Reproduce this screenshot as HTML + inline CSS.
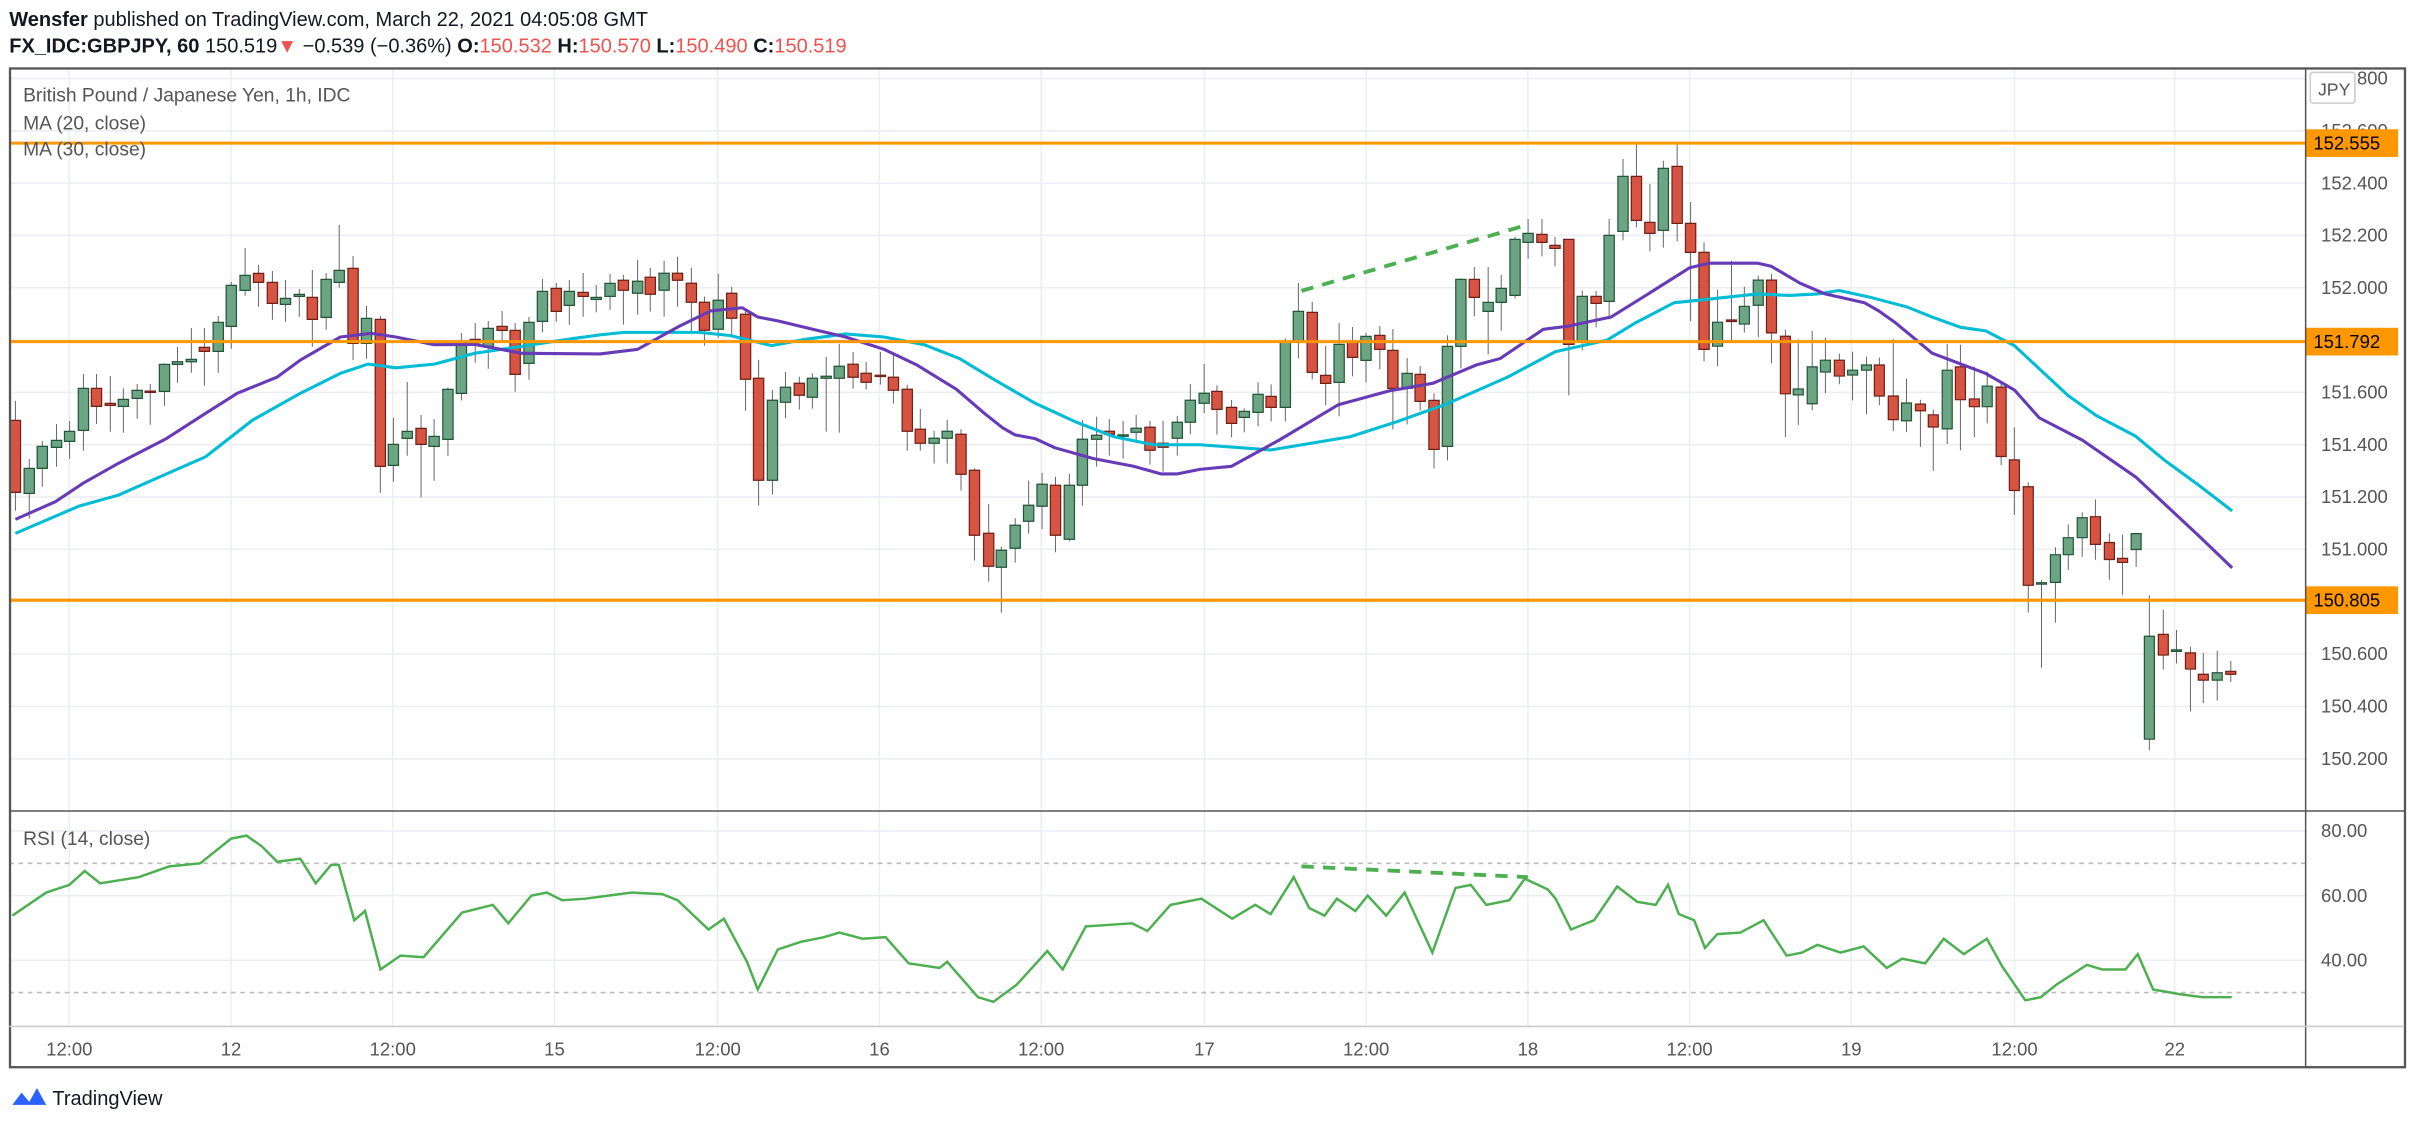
<!DOCTYPE html>
<html><head><meta charset="utf-8"><style>
html,body{margin:0;padding:0;background:#fff;}
svg{display:block;}
text{font-family:"Liberation Sans",sans-serif;}
.u{fill:#6ba583;stroke:#225437;stroke-width:1.2;}
.d{fill:#d75442;stroke:#6e1f16;stroke-width:1.2;}
.w{stroke:#666;stroke-width:1;fill:none;}
</style></head><body>
<svg width="2415" height="1128" viewBox="0 0 1568 733" preserveAspectRatio="none" xmlns="http://www.w3.org/2000/svg">
<rect width="1568" height="733" fill="#fff"/>
<g stroke="#eceef2" stroke-width="1">
<path d="M45 44V667M150 44V667M255 44V667M360 44V667M466 44V667M571 44V667M676 44V667M782 44V667M887 44V667M992 44V667M1097 44V667M1202 44V667M1308 44V667M1412 44V667"/>
<path d="M6 51H1497M6 85H1497M6 119H1497M6 153H1497M6 187H1497M6 221H1497M6 255H1497M6 289H1497M6 323H1497M6 357H1497M6 391H1497M6 425H1497M6 459H1497M6 493H1497M6 540H1497M6 582H1497M6 624H1497"/>
</g>
<text x="6" y="17" font-size="13" fill="#131722"><tspan font-weight="bold">Wensfer</tspan> published on TradingView.com, March 22, 2021 04:05:08 GMT</text>
<text x="6" y="34" font-size="13" fill="#131722"><tspan font-weight="bold">FX_IDC:GBPJPY, 60</tspan> 150.519<tspan fill="#ef5350">▼</tspan> −0.539 (−0.36%) <tspan font-weight="bold">O:</tspan><tspan fill="#ef5350">150.532</tspan> <tspan font-weight="bold">H:</tspan><tspan fill="#ef5350">150.570</tspan> <tspan font-weight="bold">L:</tspan><tspan fill="#ef5350">150.490</tspan> <tspan font-weight="bold">C:</tspan><tspan fill="#ef5350">150.519</tspan></text>

<g transform="translate(0,130) scale(0.2567,0.2166)">
<path class="w" vector-effect="non-scaling-stroke" d="M39 603V932M74 777V955M107 723V860M143 672V800M176 663V777M211 522V752M244 522V672M279 528V695M312 565V698M347 552V656M380 552V674M416 490V617M449 441V548M484 384V518M517 384V557M552 348V518M585 246V446M620 144V287M654 195V320M689 213V359M722 240V365M757 267V350M790 210V440M825 219V389M858 75V263M893 168V479M927 318V476M962 348V878M995 654V845M1030 546V767M1065 645V892M1098 657V842M1133 562V767M1167 399V601M1202 369V488M1235 363V506M1270 333V420M1303 369V575M1338 351V539M1372 237V397M1407 249V365M1440 240V374M1475 219V350M1508 255V337M1543 222V329"/>
<rect class="d" vector-effect="non-scaling-stroke" x="26" y="661" width="26" height="216"/>
<rect class="u" vector-effect="non-scaling-stroke" x="61" y="805" width="26" height="75"/>
<rect class="u" vector-effect="non-scaling-stroke" x="94" y="739" width="26" height="66"/>
<rect class="u" vector-effect="non-scaling-stroke" x="130" y="721" width="26" height="21"/>
<rect class="u" vector-effect="non-scaling-stroke" x="163" y="694" width="26" height="30"/>
<rect class="u" vector-effect="non-scaling-stroke" x="198" y="565" width="26" height="126"/>
<rect class="d" vector-effect="non-scaling-stroke" x="231" y="565" width="26" height="54"/>
<rect class="d" vector-effect="non-scaling-stroke" x="266" y="610" width="26" height="6"/>
<rect class="u" vector-effect="non-scaling-stroke" x="299" y="598" width="26" height="21"/>
<rect class="u" vector-effect="non-scaling-stroke" x="334" y="571" width="26" height="24"/>
<rect class="d" vector-effect="non-scaling-stroke" x="367" y="573" width="26" height="4"/>
<rect class="u" vector-effect="non-scaling-stroke" x="403" y="493" width="26" height="81"/>
<rect class="u" vector-effect="non-scaling-stroke" x="436" y="485" width="26" height="8"/>
<rect class="u" vector-effect="non-scaling-stroke" x="471" y="478" width="26" height="7"/>
<rect class="d" vector-effect="non-scaling-stroke" x="504" y="442" width="26" height="12"/>
<rect class="u" vector-effect="non-scaling-stroke" x="539" y="367" width="26" height="87"/>
<rect class="u" vector-effect="non-scaling-stroke" x="572" y="256" width="26" height="123"/>
<rect class="u" vector-effect="non-scaling-stroke" x="607" y="226" width="26" height="45"/>
<rect class="d" vector-effect="non-scaling-stroke" x="641" y="220" width="26" height="27"/>
<rect class="d" vector-effect="non-scaling-stroke" x="676" y="247" width="26" height="63"/>
<rect class="u" vector-effect="non-scaling-stroke" x="709" y="295" width="26" height="18"/>
<rect class="u" vector-effect="non-scaling-stroke" x="744" y="283" width="26" height="6"/>
<rect class="d" vector-effect="non-scaling-stroke" x="777" y="292" width="26" height="66"/>
<rect class="u" vector-effect="non-scaling-stroke" x="812" y="238" width="26" height="114"/>
<rect class="u" vector-effect="non-scaling-stroke" x="845" y="211" width="26" height="36"/>
<rect class="d" vector-effect="non-scaling-stroke" x="880" y="205" width="26" height="225"/>
<rect class="u" vector-effect="non-scaling-stroke" x="914" y="355" width="26" height="75"/>
<rect class="d" vector-effect="non-scaling-stroke" x="949" y="358" width="26" height="441"/>
<rect class="u" vector-effect="non-scaling-stroke" x="982" y="733" width="26" height="63"/>
<rect class="u" vector-effect="non-scaling-stroke" x="1017" y="694" width="26" height="21"/>
<rect class="d" vector-effect="non-scaling-stroke" x="1052" y="685" width="26" height="48"/>
<rect class="u" vector-effect="non-scaling-stroke" x="1085" y="709" width="26" height="30"/>
<rect class="u" vector-effect="non-scaling-stroke" x="1120" y="568" width="26" height="150"/>
<rect class="u" vector-effect="non-scaling-stroke" x="1154" y="430" width="26" height="150"/>
<rect class="d" vector-effect="non-scaling-stroke" x="1189" y="418" width="26" height="10"/>
<rect class="u" vector-effect="non-scaling-stroke" x="1222" y="385" width="26" height="54"/>
<rect class="d" vector-effect="non-scaling-stroke" x="1257" y="379" width="26" height="12"/>
<rect class="d" vector-effect="non-scaling-stroke" x="1290" y="391" width="26" height="132"/>
<rect class="u" vector-effect="non-scaling-stroke" x="1325" y="367" width="26" height="123"/>
<rect class="u" vector-effect="non-scaling-stroke" x="1359" y="274" width="26" height="90"/>
<rect class="d" vector-effect="non-scaling-stroke" x="1394" y="265" width="26" height="69"/>
<rect class="u" vector-effect="non-scaling-stroke" x="1427" y="274" width="26" height="42"/>
<rect class="d" vector-effect="non-scaling-stroke" x="1462" y="277" width="26" height="12"/>
<rect class="u" vector-effect="non-scaling-stroke" x="1495" y="292" width="26" height="6"/>
<rect class="u" vector-effect="non-scaling-stroke" x="1530" y="250" width="26" height="39"/>
</g>

<g transform="translate(389.6,162.4) scale(0.2567,0.2166)">
<path class="w" vector-effect="non-scaling-stroke" d="M59 75V224M95 30V194M127 54V185M162 33V200M196 21V170M231 54V249M264 140V287M299 72V264M333 111V254M368 180V482M401 330V767M436 420V734M469 366V505M504 380V479M537 370V476M572 321V545M605 282V548M640 306V416M673 336V419M709 306V404M742 315V461M777 405V602M810 477V602M845 543V641M878 510V641M913 538V722M947 655V932M983 762V995M1015 890V1088M1050 805V938M1084 692V851M1118 669V838M1152 681V907M1187 672V874M1220 510V767M1256 500V650M1288 507V617M1323 513V626M1356 495V580M1391 513V644M1424 513V665M1460 498V617M1493 402V553M1528 342V490"/>
<rect class="d" vector-effect="non-scaling-stroke" x="46" y="91" width="26" height="30"/>
<rect class="u" vector-effect="non-scaling-stroke" x="82" y="94" width="26" height="36"/>
<rect class="d" vector-effect="non-scaling-stroke" x="114" y="82" width="26" height="51"/>
<rect class="u" vector-effect="non-scaling-stroke" x="149" y="70" width="26" height="51"/>
<rect class="d" vector-effect="non-scaling-stroke" x="183" y="70" width="26" height="21"/>
<rect class="d" vector-effect="non-scaling-stroke" x="218" y="100" width="26" height="57"/>
<rect class="d" vector-effect="non-scaling-stroke" x="251" y="157" width="26" height="84"/>
<rect class="u" vector-effect="non-scaling-stroke" x="286" y="151" width="26" height="87"/>
<rect class="d" vector-effect="non-scaling-stroke" x="320" y="130" width="26" height="75"/>
<rect class="d" vector-effect="non-scaling-stroke" x="355" y="193" width="26" height="195"/>
<rect class="d" vector-effect="non-scaling-stroke" x="388" y="385" width="26" height="306"/>
<rect class="u" vector-effect="non-scaling-stroke" x="423" y="451" width="26" height="240"/>
<rect class="u" vector-effect="non-scaling-stroke" x="456" y="412" width="26" height="45"/>
<rect class="d" vector-effect="non-scaling-stroke" x="491" y="400" width="26" height="36"/>
<rect class="u" vector-effect="non-scaling-stroke" x="524" y="385" width="26" height="57"/>
<rect class="u" vector-effect="non-scaling-stroke" x="559" y="379" width="26" height="6"/>
<rect class="u" vector-effect="non-scaling-stroke" x="592" y="349" width="26" height="36"/>
<rect class="d" vector-effect="non-scaling-stroke" x="627" y="343" width="26" height="39"/>
<rect class="d" vector-effect="non-scaling-stroke" x="660" y="370" width="26" height="27"/>
<rect class="d" vector-effect="non-scaling-stroke" x="696" y="376" width="26" height="4"/>
<rect class="d" vector-effect="non-scaling-stroke" x="729" y="382" width="26" height="39"/>
<rect class="d" vector-effect="non-scaling-stroke" x="764" y="418" width="26" height="126"/>
<rect class="d" vector-effect="non-scaling-stroke" x="797" y="538" width="26" height="42"/>
<rect class="u" vector-effect="non-scaling-stroke" x="832" y="565" width="26" height="15"/>
<rect class="u" vector-effect="non-scaling-stroke" x="865" y="544" width="26" height="21"/>
<rect class="d" vector-effect="non-scaling-stroke" x="900" y="553" width="26" height="120"/>
<rect class="d" vector-effect="non-scaling-stroke" x="934" y="661" width="26" height="195"/>
<rect class="d" vector-effect="non-scaling-stroke" x="970" y="850" width="26" height="99"/>
<rect class="u" vector-effect="non-scaling-stroke" x="1002" y="901" width="26" height="51"/>
<rect class="u" vector-effect="non-scaling-stroke" x="1037" y="826" width="26" height="69"/>
<rect class="u" vector-effect="non-scaling-stroke" x="1071" y="766" width="26" height="48"/>
<rect class="u" vector-effect="non-scaling-stroke" x="1105" y="703" width="26" height="66"/>
<rect class="d" vector-effect="non-scaling-stroke" x="1139" y="706" width="26" height="150"/>
<rect class="u" vector-effect="non-scaling-stroke" x="1174" y="706" width="26" height="162"/>
<rect class="u" vector-effect="non-scaling-stroke" x="1207" y="568" width="26" height="138"/>
<rect class="u" vector-effect="non-scaling-stroke" x="1243" y="556" width="26" height="12"/>
<rect class="d" vector-effect="non-scaling-stroke" x="1275" y="544" width="26" height="9"/>
<rect class="u" vector-effect="non-scaling-stroke" x="1310" y="555" width="26" height="4"/>
<rect class="u" vector-effect="non-scaling-stroke" x="1343" y="535" width="26" height="12"/>
<rect class="d" vector-effect="non-scaling-stroke" x="1378" y="532" width="26" height="69"/>
<rect class="d" vector-effect="non-scaling-stroke" x="1411" y="580" width="26" height="12"/>
<rect class="u" vector-effect="non-scaling-stroke" x="1447" y="517" width="26" height="48"/>
<rect class="u" vector-effect="non-scaling-stroke" x="1480" y="451" width="26" height="66"/>
<rect class="u" vector-effect="non-scaling-stroke" x="1515" y="430" width="26" height="30"/>
</g>

<g transform="translate(779.1,78) scale(0.2567,0.2166)">
<path class="w" vector-effect="non-scaling-stroke" d="M43 796V943M80 840V952M112 865V937M147 787V919M180 793V904M216 655V904M249 489V715M284 546V778M318 678V856M352 609V889M386 621V769M420 639V787M455 618V748M488 627V928M524 714V913M557 738V871M592 820V1045M626 646V1021M660 475V745M694 441V589M729 441V703M762 465V632M797 350V535M830 297V416M865 297V409M898 351V439M933 358V826M967 511V691M1002 513V622M1035 297V598M1070 117V361M1104 70V322M1138 192V394M1172 122V383M1207 70V364M1241 246V604M1275 367V724"/>
<rect class="d" vector-effect="non-scaling-stroke" x="30" y="814" width="26" height="54"/>
<rect class="d" vector-effect="non-scaling-stroke" x="67" y="862" width="26" height="48"/>
<rect class="u" vector-effect="non-scaling-stroke" x="99" y="874" width="26" height="18"/>
<rect class="u" vector-effect="non-scaling-stroke" x="134" y="823" width="26" height="54"/>
<rect class="d" vector-effect="non-scaling-stroke" x="167" y="829" width="26" height="33"/>
<rect class="u" vector-effect="non-scaling-stroke" x="203" y="667" width="26" height="195"/>
<rect class="u" vector-effect="non-scaling-stroke" x="236" y="574" width="26" height="93"/>
<rect class="d" vector-effect="non-scaling-stroke" x="271" y="577" width="26" height="180"/>
<rect class="d" vector-effect="non-scaling-stroke" x="305" y="766" width="26" height="24"/>
<rect class="u" vector-effect="non-scaling-stroke" x="339" y="673" width="26" height="114"/>
<rect class="d" vector-effect="non-scaling-stroke" x="373" y="667" width="26" height="45"/>
<rect class="u" vector-effect="non-scaling-stroke" x="407" y="649" width="26" height="72"/>
<rect class="d" vector-effect="non-scaling-stroke" x="442" y="646" width="26" height="42"/>
<rect class="d" vector-effect="non-scaling-stroke" x="475" y="691" width="26" height="114"/>
<rect class="u" vector-effect="non-scaling-stroke" x="511" y="760" width="26" height="45"/>
<rect class="d" vector-effect="non-scaling-stroke" x="544" y="763" width="26" height="81"/>
<rect class="d" vector-effect="non-scaling-stroke" x="579" y="841" width="26" height="147"/>
<rect class="u" vector-effect="non-scaling-stroke" x="613" y="679" width="26" height="300"/>
<rect class="u" vector-effect="non-scaling-stroke" x="647" y="478" width="26" height="201"/>
<rect class="d" vector-effect="non-scaling-stroke" x="681" y="478" width="26" height="54"/>
<rect class="u" vector-effect="non-scaling-stroke" x="716" y="547" width="26" height="27"/>
<rect class="u" vector-effect="non-scaling-stroke" x="749" y="505" width="26" height="42"/>
<rect class="u" vector-effect="non-scaling-stroke" x="784" y="358" width="26" height="168"/>
<rect class="u" vector-effect="non-scaling-stroke" x="817" y="340" width="26" height="27"/>
<rect class="d" vector-effect="non-scaling-stroke" x="852" y="343" width="26" height="24"/>
<rect class="d" vector-effect="non-scaling-stroke" x="885" y="376" width="26" height="9"/>
<rect class="d" vector-effect="non-scaling-stroke" x="920" y="358" width="26" height="315"/>
<rect class="u" vector-effect="non-scaling-stroke" x="954" y="529" width="26" height="138"/>
<rect class="d" vector-effect="non-scaling-stroke" x="989" y="529" width="26" height="21"/>
<rect class="u" vector-effect="non-scaling-stroke" x="1022" y="346" width="26" height="198"/>
<rect class="u" vector-effect="non-scaling-stroke" x="1057" y="169" width="26" height="165"/>
<rect class="d" vector-effect="non-scaling-stroke" x="1091" y="169" width="26" height="132"/>
<rect class="d" vector-effect="non-scaling-stroke" x="1125" y="307" width="26" height="33"/>
<rect class="u" vector-effect="non-scaling-stroke" x="1159" y="145" width="26" height="186"/>
<rect class="d" vector-effect="non-scaling-stroke" x="1194" y="139" width="26" height="171"/>
<rect class="d" vector-effect="non-scaling-stroke" x="1228" y="310" width="26" height="87"/>
<rect class="d" vector-effect="non-scaling-stroke" x="1262" y="397" width="26" height="291"/>
</g>

<g transform="translate(1103.8,130) scale(0.2319,0.2398)">
<path class="w" vector-effect="non-scaling-stroke" d="M49 243V450M88 165V380M124 235V359M163 205V372M200 200V442M239 351V642M275 378V610M314 354V570M351 373V523M390 416V499M427 411V543M466 424V580M502 427V556M541 377V626M578 484V629M617 541V669M653 568V734M692 390V661M729 392V678M768 451V642M804 465V605M843 498V718M880 616V853M919 765V1118M956 1030V1267M995 941V1145M1031 879V1002M1070 846V967M1107 811V975M1146 903V1029M1183 907V1070M1221 904V994M1258 1071V1491M1297 1110V1272M1334 1165V1256M1373 1210V1386M1409 1227V1363M1448 1222V1356M1486 1249V1306"/>
<rect class="u" vector-effect="non-scaling-stroke" x="35" y="331" width="28" height="65"/>
<rect class="d" vector-effect="non-scaling-stroke" x="74" y="325" width="28" height="4"/>
<rect class="u" vector-effect="non-scaling-stroke" x="110" y="288" width="28" height="48"/>
<rect class="u" vector-effect="non-scaling-stroke" x="149" y="217" width="28" height="68"/>
<rect class="d" vector-effect="non-scaling-stroke" x="186" y="217" width="28" height="143"/>
<rect class="d" vector-effect="non-scaling-stroke" x="225" y="369" width="28" height="156"/>
<rect class="u" vector-effect="non-scaling-stroke" x="261" y="512" width="28" height="16"/>
<rect class="u" vector-effect="non-scaling-stroke" x="300" y="452" width="28" height="100"/>
<rect class="u" vector-effect="non-scaling-stroke" x="337" y="434" width="28" height="32"/>
<rect class="d" vector-effect="non-scaling-stroke" x="376" y="434" width="28" height="43"/>
<rect class="u" vector-effect="non-scaling-stroke" x="413" y="461" width="28" height="13"/>
<rect class="u" vector-effect="non-scaling-stroke" x="452" y="447" width="28" height="14"/>
<rect class="d" vector-effect="non-scaling-stroke" x="488" y="447" width="28" height="84"/>
<rect class="d" vector-effect="non-scaling-stroke" x="527" y="531" width="28" height="64"/>
<rect class="u" vector-effect="non-scaling-stroke" x="564" y="550" width="28" height="48"/>
<rect class="d" vector-effect="non-scaling-stroke" x="603" y="553" width="28" height="18"/>
<rect class="d" vector-effect="non-scaling-stroke" x="639" y="582" width="28" height="33"/>
<rect class="u" vector-effect="non-scaling-stroke" x="678" y="461" width="28" height="159"/>
<rect class="d" vector-effect="non-scaling-stroke" x="715" y="452" width="28" height="89"/>
<rect class="d" vector-effect="non-scaling-stroke" x="754" y="539" width="28" height="21"/>
<rect class="u" vector-effect="non-scaling-stroke" x="790" y="504" width="28" height="56"/>
<rect class="d" vector-effect="non-scaling-stroke" x="829" y="507" width="28" height="188"/>
<rect class="d" vector-effect="non-scaling-stroke" x="866" y="704" width="28" height="83"/>
<rect class="d" vector-effect="non-scaling-stroke" x="905" y="777" width="28" height="267"/>
<rect class="u" vector-effect="non-scaling-stroke" x="942" y="1037" width="28" height="4"/>
<rect class="u" vector-effect="non-scaling-stroke" x="981" y="961" width="28" height="75"/>
<rect class="u" vector-effect="non-scaling-stroke" x="1017" y="915" width="28" height="46"/>
<rect class="u" vector-effect="non-scaling-stroke" x="1056" y="861" width="28" height="54"/>
<rect class="d" vector-effect="non-scaling-stroke" x="1093" y="858" width="28" height="75"/>
<rect class="d" vector-effect="non-scaling-stroke" x="1132" y="928" width="28" height="46"/>
<rect class="d" vector-effect="non-scaling-stroke" x="1169" y="971" width="28" height="11"/>
<rect class="u" vector-effect="non-scaling-stroke" x="1207" y="904" width="28" height="43"/>
<rect class="u" vector-effect="non-scaling-stroke" x="1244" y="1182" width="28" height="279"/>
<rect class="d" vector-effect="non-scaling-stroke" x="1283" y="1177" width="28" height="56"/>
<rect class="u" vector-effect="non-scaling-stroke" x="1320" y="1219" width="28" height="4"/>
<rect class="d" vector-effect="non-scaling-stroke" x="1359" y="1227" width="28" height="44"/>
<rect class="d" vector-effect="non-scaling-stroke" x="1395" y="1285" width="28" height="16"/>
<rect class="u" vector-effect="non-scaling-stroke" x="1434" y="1281" width="28" height="20"/>
<rect class="d" vector-effect="non-scaling-stroke" x="1472" y="1277" width="28" height="8"/>
</g>

<polyline fill="none" stroke="#00bcd4" stroke-width="2" stroke-linejoin="round" points="10,346.6 51,329 77,321.7 108,308 133.5,296.8 164,273 195,255.6 221,242.6 239,236.6 257,239 282,236.6 308,229.6 339,225 372,220 389.6,217.6 405,216 454,216 474,218 501,224.6 523,220.5 549,217 574,219 600,224 623,233 646,247 672,262 698,274 723,283.7 749,289 779,289 825,292.4 876.6,283.8 907,274 938,263 979,245 1010,228.5 1043.5,221 1061.5,210 1087,196.7 1104,195 1141,191 1161.8,192 1180.3,191 1194,188.8 1212.8,192.8 1238.3,199.5 1254.5,206 1273,212.7 1289.3,215 1308,224.7 1342.7,257 1361,270 1386.7,283.5 1405.3,299 1428.5,316 1449.3,332"/>
<polyline fill="none" stroke="#673ab7" stroke-width="2" stroke-linejoin="round" points="10,337.5 36,326 54,314 77,301 108,285 133.5,268.6 154,255.6 180,245 195,234 221,219 241,216.6 257,219 282,224 308,223.8 339,229.6 389.6,230 414,227 441,212 461.5,202 482,200 492,206 505,208.5 528,214 549,219 574,227 595,237 621,253 639,268.5 651,278 659,282.6 672,285 685,291 710,298 736,303 754,308 764,308 779,305 799.6,303 830.5,286 869,263 902,254 930.5,249 959,237 974,233 1002,214 1017.8,212 1046,206 1069,191.7 1097,174 1110,171 1141,171 1150,173 1168.7,184 1185,191 1210.5,196.7 1219.8,202 1231,210 1254.5,229.5 1289.3,242.7 1308,253.5 1324,271.5 1352,286 1386.7,310 1428.5,349 1449.3,369"/>
<line x1="845" y1="189" x2="992" y2="146" stroke="#4caf50" stroke-width="2.5" stroke-dasharray="8,6"/>
<line x1="6" y1="93" x2="1497" y2="93" stroke="#ff9800" stroke-width="2"/>
<line x1="6" y1="222" x2="1497" y2="222" stroke="#ff9800" stroke-width="2"/>
<line x1="6" y1="390" x2="1497" y2="390" stroke="#ff9800" stroke-width="2"/>
<line x1="6" y1="561" x2="1497" y2="561" stroke="#bbb" stroke-width="1" stroke-dasharray="3,3"/>
<line x1="6" y1="645" x2="1497" y2="645" stroke="#bbb" stroke-width="1" stroke-dasharray="3,3"/>
<polyline fill="none" stroke="#4caf50" stroke-width="1.6" points="8,595 30,580 45,575 55,566 65,574 90,570 110,563 130,561 150,545 160,543 170,550 180,560 195,558 205,574 215,562 220,562 230,598 237,592 247,630 260,621 275,622 300,593 320,588 330,600 345,582 355,580 365,585 380,584 395,582 410,580 430,581 440,585 460,604 470,597 485,625 492,643 505,617 520,612 535,609 545,606 560,610 575,609 590,626 610,629 615,625 635,648 645,651 660,640 680,618 690,630 705,602 735,600 745,605 760,588 780,584 800,597 815,588 825,594 840,570 850,590 860,595 868,584 880,592 888,582 900,595 912,580 930,619 945,577 955,575 965,588 980,585 990,571 1005,578 1010,584 1020,604 1035,598 1050,576 1063,586 1075,588 1083,575 1090,594 1100,598 1107,616 1115,607 1130,606 1145,598 1160,621 1170,619 1180,614 1195,619 1210,615 1225,629 1235,623 1250,626 1262,610 1275,620 1290,610 1300,628 1315,650 1325,648 1335,640 1355,627 1365,630 1380,630 1388,620 1398,643 1415,646 1430,648 1449,648"/>
<line x1="845" y1="563" x2="992" y2="570" stroke="#4caf50" stroke-width="2.5" stroke-dasharray="8,6"/>
<text x="15" y="66" font-size="12.5" fill="#555">British Pound / Japanese Yen, 1h, IDC</text>
<text x="15" y="84" font-size="12.5" fill="#555">MA (20, close)</text>
<text x="15" y="101" font-size="12.5" fill="#555">MA (30, close)</text>
<text x="15" y="549" font-size="12.5" fill="#555">RSI (14, close)</text>
<g font-size="12" fill="#555">
<text x="1507" y="55">152.800</text><text x="1507" y="89">152.600</text><text x="1507" y="123">152.400</text><text x="1507" y="157">152.200</text><text x="1507" y="191">152.000</text><text x="1507" y="225">151.800</text><text x="1507" y="259">151.600</text><text x="1507" y="293">151.400</text><text x="1507" y="327">151.200</text><text x="1507" y="361">151.000</text><text x="1507" y="395">150.800</text><text x="1507" y="429">150.600</text><text x="1507" y="463">150.400</text><text x="1507" y="497">150.200</text>
<text x="1507" y="544">80.00</text><text x="1507" y="586">60.00</text><text x="1507" y="628">40.00</text>
<g text-anchor="middle">
<text x="45" y="686">12:00</text><text x="150" y="686">12</text><text x="255" y="686">12:00</text><text x="360" y="686">15</text><text x="466" y="686">12:00</text><text x="571" y="686">16</text><text x="676" y="686">12:00</text><text x="782" y="686">17</text><text x="887" y="686">12:00</text><text x="992" y="686">18</text><text x="1097" y="686">12:00</text><text x="1202" y="686">19</text><text x="1308" y="686">12:00</text><text x="1412" y="686">22</text>
</g></g>
<rect x="1500" y="47" width="29" height="20" fill="#fff" stroke="#ccc" rx="2"/>
<text x="1505" y="62" font-size="11.5" fill="#555">JPY</text>
<g font-size="12" fill="#000">
<rect x="1497" y="84" width="60" height="18" fill="#ff9800"/><text x="1502" y="97">152.555</text>
<rect x="1497" y="213" width="60" height="18" fill="#ff9800"/><text x="1502" y="226">151.792</text>
<rect x="1497" y="381" width="60" height="18" fill="#ff9800"/><text x="1502" y="394">150.805</text>
</g>
<g stroke="#555" fill="none">
<rect x="6.5" y="44.5" width="1555" height="649" stroke-width="1.5"/>
<line x1="1497" y1="44" x2="1497" y2="694"/>
<line x1="6" y1="527" x2="1561" y2="527"/>
<line x1="6" y1="667" x2="1561" y2="667" stroke="#ccc"/>
</g>
<path d="M8 718 l6 -8 l5 6 l5 -9 l6 11 z" fill="#2962ff"/>
<text x="34" y="718" font-size="13" fill="#131722">TradingView</text>
</svg>
</body></html>
